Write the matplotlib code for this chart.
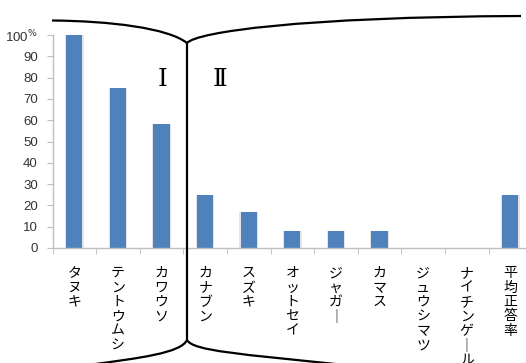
import matplotlib
matplotlib.use("Agg")
import matplotlib.pyplot as plt
from matplotlib.path import Path
from matplotlib.patches import PathPatch
import numpy as np

plt.rcParams['font.family'] = ['Noto Sans CJK JP', 'DejaVu Sans']

categories = ['タヌキ', 'テントウムシ', 'カワウソ', 'カナブン', 'スズキ', 'オットセイ',
              'ジャガー', 'カマス', 'ジュウシマツ', 'ナイチンゲール', '平均正答率']
values = [100, 75, 58, 25, 17, 8, 8, 8, 0, 0, 25]
yticks = [0, 10, 20, 30, 40, 50, 60, 70, 80, 90, 100]
ytick_labels = ['0', '10', '20', '30', '40', '50', '60', '70', '80', '90', r'100$^{\%}$']
group_labels = ['Ⅰ', 'Ⅱ']

W, H = 526, 363
fig = plt.figure(figsize=(W / 100, H / 100), dpi=100)
ax = fig.add_axes([52.5 / W, 1 - 248 / H, 479.6 / W, (248 - 35) / H])

x = np.arange(len(categories))
# faint shadow
ax.bar(x, values, width=0.43, color='#E4E4E4', zorder=1)
ax.bar(x, values, width=0.37, color='#4F81BD', zorder=2)

ax.set_xlim(-0.5, len(categories) - 0.5)
ax.set_ylim(0, 100)
for s in ['top', 'right']:
    ax.spines[s].set_visible(False)
ax.spines['left'].set_color('#BFBFBF')
ax.spines['bottom'].set_color('#BFBFBF')
ax.spines['left'].set_linewidth(1.0)
ax.spines['bottom'].set_linewidth(1.0)

ax.set_yticks(yticks)
ax.set_yticklabels(ytick_labels, fontsize=9.5, color='#333333', family='Liberation Sans')
ax.tick_params(axis='y', length=4.5, color='#BFBFBF', pad=6)

ax.set_xticks(x)
ax.set_xticklabels([])
ax.tick_params(axis='x', which='major', length=0)
ax.set_xticks(np.arange(-0.5, len(categories), 1), minor=True)
ax.tick_params(axis='x', which='minor', length=4.5, color='#BFBFBF')

def vert(s):
    return '\n'.join('｜' if c == 'ー' else c for c in s)

for xi, lab in zip(x, categories):
    ax.text(xi, -8.5, vert(lab), ha='center', va='top', fontsize=10,
            linespacing=1.04, color='#000000', clip_on=False)

# bracket lines in figure pixel coordinates
def fpt(px, py):
    return (px / W, 1 - py / H)

def curve(pts, codes):
    p = Path([fpt(*q) for q in pts], codes)
    fig.patches.append(PathPatch(p, transform=fig.transFigure, fill=False,
                                 edgecolor='black', linewidth=1.6, zorder=10))

C = Path.CURVE4
curve([(52, 20.5), (110, 21), (168, 28), (187, 43)], [Path.MOVETO, C, C, C])
curve([(187, 43), (197, 32), (300, 17), (521, 16)], [Path.MOVETO, C, C, C])
curve([(187, 43), (187, 340)], [Path.MOVETO, Path.LINETO])
curve([(187, 340), (181, 353), (140, 358), (88, 365)], [Path.MOVETO, C, C, C])
curve([(187, 340), (193, 351), (240, 354), (345, 365)], [Path.MOVETO, C, C, C])

fig.text(163 / W, 1 - 80 / H, group_labels[0], ha='center', va='center',
         fontsize=18, family='DejaVu Serif')
fig.text(220 / W, 1 - 80 / H, group_labels[1], ha='center', va='center',
         fontsize=18, family='DejaVu Serif')

fig.savefig('out.png', dpi=100)
